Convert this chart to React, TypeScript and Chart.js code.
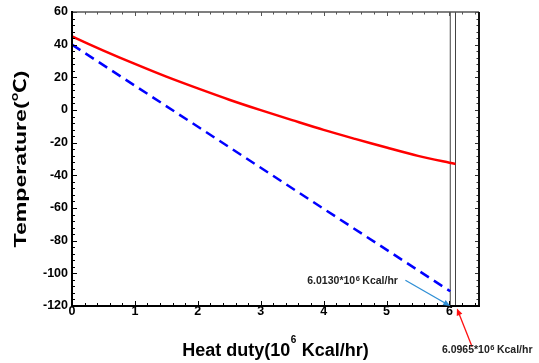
import React, { useEffect, useRef } from 'react';
import { Chart, registerables } from 'chart.js';

Chart.register(...registerables);

// Hot stream (red solid)
const hotDuty = [0, 0.5, 1, 1.5, 2, 2.5, 3, 3.5, 4, 4.5, 5, 5.5, 6, 6.0965];
const hotTemp = [45, 36.4, 28.2, 20.4, 13.2, 6.3, -0.1, -6.2, -12.2, -17.7, -23.0, -28.1, -32.3, -33.0];
// Cold stream (blue dashed)
const coldDuty = [0, 6.013];
const coldTemp = [40, -111];
// Vertical marker lines
const markerDuties = [6.013, 6.0965];
const markerLabels = ['6.0130*10', '6.0965*10'];
const tempRange = [-120, 60];
const dutyRange = [0, 6.47];
const xTitleParts = ['Heat duty(10', '6', ' Kcal/hr)'];
const yTitleParts = ['Temperature(', '℃', ')'];

const FONT = '"Liberation Sans", Arial, sans-serif';
const CJK = '"Noto Sans CJK SC", sans-serif';

const decorPlugin = {
  id: 'decor',
  afterDatasetsDraw(chart: any) {
    const { ctx, chartArea, scales } = chart;
    const { left, top, right, bottom } = chartArea;
    const xs = scales.x;
    const ys = scales.y;
    ctx.save();
    // inside ticks
    ctx.lineWidth = 1;
    for (let i = 0; i * 0.2 <= dutyRange[1] + 1e-9; i++) {
      const v = i * 0.2;
      const px = Math.round(xs.getPixelForValue(v)) + 0.5;
      const major = i % 5 === 0;
      ctx.strokeStyle = '#000';
      ctx.beginPath();
      ctx.moveTo(px, bottom);
      ctx.lineTo(px, bottom - (major ? 5 : 3));
      ctx.stroke();
      ctx.strokeStyle = '#555';
      ctx.beginPath();
      ctx.moveTo(px, top);
      ctx.lineTo(px, top + (major ? 4 : 2.5));
      ctx.stroke();
    }
    for (let i = 0; tempRange[0] + i * 4 <= tempRange[1]; i++) {
      const v = tempRange[0] + i * 4;
      const py = Math.round(ys.getPixelForValue(v)) + 0.5;
      const major = i % 5 === 0;
      ctx.strokeStyle = '#000';
      ctx.beginPath();
      ctx.moveTo(left, py);
      ctx.lineTo(left + (major ? 5 : 3), py);
      ctx.stroke();
      ctx.strokeStyle = '#333';
      ctx.beginPath();
      ctx.moveTo(right, py);
      ctx.lineTo(right - (major ? 4 : 2.5), py);
      ctx.stroke();
    }
    // frame
    ctx.strokeStyle = '#555';
    ctx.lineWidth = 1.5;
    ctx.beginPath();
    ctx.moveTo(left, top);
    ctx.lineTo(right, top);
    ctx.stroke();
    ctx.strokeStyle = '#111';
    ctx.lineWidth = 2;
    ctx.beginPath();
    ctx.moveTo(right, top);
    ctx.lineTo(right, bottom);
    ctx.stroke();
    ctx.strokeStyle = '#000';
    ctx.lineWidth = 2;
    ctx.beginPath();
    ctx.moveTo(left, top - 1);
    ctx.lineTo(left, bottom);
    ctx.lineTo(right + 1, bottom);
    ctx.stroke();

    // arrows
    const arrow = (x0: number, y0: number, x1: number, y1: number, color: string) => {
      const ax = xs.getPixelForValue(x0), ay = ys.getPixelForValue(y0);
      const bx = xs.getPixelForValue(x1), by = ys.getPixelForValue(y1);
      const ang = Math.atan2(by - ay, bx - ax);
      const hl = 7, hw = 3;
      ctx.strokeStyle = color;
      ctx.fillStyle = color;
      ctx.lineWidth = 1.3;
      ctx.beginPath();
      ctx.moveTo(ax, ay);
      ctx.lineTo(bx - Math.cos(ang) * hl * 0.8, by - Math.sin(ang) * hl * 0.8);
      ctx.stroke();
      ctx.beginPath();
      ctx.moveTo(bx, by);
      ctx.lineTo(bx - Math.cos(ang) * hl - Math.sin(ang) * hw, by - Math.sin(ang) * hl + Math.cos(ang) * hw);
      ctx.lineTo(bx - Math.cos(ang) * hl + Math.sin(ang) * hw, by - Math.sin(ang) * hl - Math.cos(ang) * hw);
      ctx.closePath();
      ctx.fill();
    };
    arrow(5.3, -104.2, markerDuties[0], -120, '#2f8fd5');
    arrow(6.36, -145, 6.12, -121.5, '#ff1010');

    // labels with superscript
    const label = (x: number, y: number, base: string) => {
      let px = xs.getPixelForValue(x);
      const py = ys.getPixelForValue(y);
      ctx.fillStyle = '#222';
      ctx.textBaseline = 'middle';
      ctx.textAlign = 'left';
      ctx.font = `bold 10.5px ${FONT}`;
      ctx.fillText(base, px, py);
      px += ctx.measureText(base).width + 0.5;
      ctx.font = `bold 7.5px ${FONT}`;
      ctx.fillText('6', px, py - 2);
      px += ctx.measureText('6').width + 2.5;
      ctx.font = `bold 10.5px ${FONT}`;
      ctx.fillText('Kcal/hr', px, py);
    };
    label(3.74, -104.6, markerLabels[0]);
    label(5.88, -147, markerLabels[1]);

    // x title with superscript
    ctx.fillStyle = '#000';
    ctx.textBaseline = 'alphabetic';
    ctx.textAlign = 'left';
    const big = `bold 18px ${FONT}`;
    const small = `bold 10px ${FONT}`;
    ctx.font = big;
    const w0 = ctx.measureText(xTitleParts[0]).width;
    const w2 = ctx.measureText(xTitleParts[2]).width;
    ctx.font = small;
    const w1 = ctx.measureText(xTitleParts[1]).width + 1;
    const total = w0 + w1 + w2;
    let tx = (left + right) / 2 - total / 2;
    const base = 356;
    ctx.font = big;
    ctx.fillText(xTitleParts[0], tx, base);
    tx += w0 + 0.5;
    ctx.font = small;
    ctx.fillText(xTitleParts[1], tx, base - 13);
    tx += w1 - 0.5;
    ctx.font = big;
    ctx.fillText(xTitleParts[2], tx, base);

    // y title (rotated), stretched to match length
    const yf = `bold 17px ${FONT}`;
    const yc = `bold 17px ${CJK}`;
    ctx.font = yf;
    const a0 = ctx.measureText(yTitleParts[0]).width;
    const a2 = ctx.measureText(yTitleParts[2]).width;
    ctx.font = yc;
    const a1 = ctx.measureText(yTitleParts[1]).width;
    const natural = a0 + a1 + a2;
    const targetLen = 177;
    const sc = targetLen / natural;
    ctx.save();
    ctx.translate(25.5, (top + bottom) / 2);
    ctx.rotate(-Math.PI / 2);
    ctx.scale(sc, 1);
    let yx = -natural / 2;
    ctx.font = yf;
    ctx.fillText(yTitleParts[0], yx, 0);
    yx += a0;
    ctx.font = yc;
    ctx.fillText(yTitleParts[1], yx, 0);
    yx += a1;
    ctx.font = yf;
    ctx.fillText(yTitleParts[2], yx, 0);
    ctx.restore();

    ctx.restore();
  },
};

export default function App() {
  const ref = useRef<HTMLCanvasElement>(null);
  useEffect(() => {
    document.body.style.margin = '0';
    const chart = new Chart(ref.current!, {
      type: 'line',
      data: {
        datasets: [
          {
            data: hotDuty.map((x, i) => ({ x, y: hotTemp[i] })),
            borderColor: '#ff0000',
            borderWidth: 2.5,
            pointRadius: 0,
            tension: 0.3,
          },
          {
            data: coldDuty.map((x, i) => ({ x, y: coldTemp[i] })),
            borderColor: '#0000ff',
            borderWidth: 2.5,
            borderDash: [10, 6],
            pointRadius: 0,
          },
          ...markerDuties.map((d) => ({
            data: tempRange.map((t) => ({ x: d, y: t })),
            borderColor: '#444',
            borderWidth: 1,
            pointRadius: 0,
          })),
        ],
      },
      options: {
        responsive: false,
        animation: false,
        layout: { padding: { top: 12, right: 60, left: 0, bottom: 0 } },
        plugins: { legend: { display: false }, tooltip: { enabled: false } },
        scales: {
          x: {
            type: 'linear',
            min: dutyRange[0],
            max: dutyRange[1],
            grid: { display: false, drawTicks: false },
            border: { display: false },
            ticks: {
              stepSize: 1,
              includeBounds: false,
              padding: -2,
              color: '#000',
              font: { family: FONT, size: 12.5, weight: 'bold' },
              maxRotation: 0,
            },
            title: { display: false },
            afterFit: (s: any) => { s.height = 57; },
          },
          y: {
            type: 'linear',
            min: tempRange[0],
            max: tempRange[1],
            grid: { display: false, drawTicks: false },
            border: { display: false },
            ticks: {
              stepSize: 20,
              padding: 4,
              color: '#000',
              font: { family: FONT, size: 12.5, weight: 'bold' },
            },
            title: { display: false },
            afterFit: (s: any) => { s.width = 72; },
          },
        },
      },
      plugins: [decorPlugin],
    } as any);
    return () => chart.destroy();
  }, []);
  return <canvas ref={ref} width={539} height={363} style={{ display: 'block' }} />;
}
